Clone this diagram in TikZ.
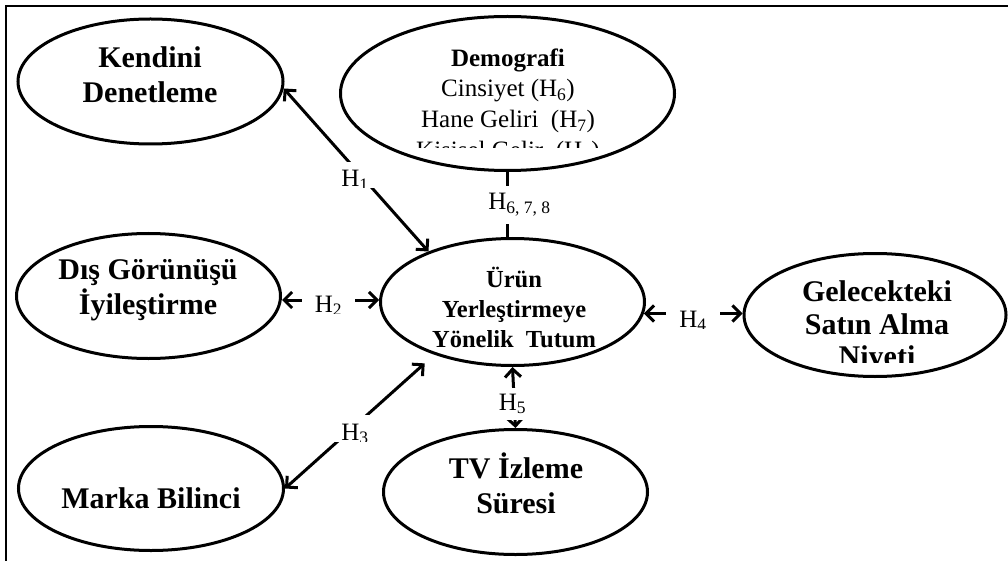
\documentclass[tikz,border=0pt]{standalone}
\usepackage{fontspec}
\setmainfont{Liberation Serif}
\usetikzlibrary{arrows.meta,shapes.geometric}

\begin{document}
\begin{tikzpicture}[x=1pt,y=-1pt,
  ell/.style={draw, ellipse, line width=3pt, inner sep=0pt},
  ttl/.style={font=\fontsize{30}{35}\selectfont\bfseries, align=center, inner sep=0pt},
  hyp/.style={font=\fontsize{25}{30}\selectfont, fill=white, inner xsep=13pt, inner ysep=9pt},
  link/.style={line width=3pt},
  bi/.style={link, {Straight Barb[length=8pt,width=16pt]}-{Straight Barb[length=8pt,width=16pt]}}]

\useasboundingbox (0,0) rectangle (1008,561);

% frame
\draw[line width=2pt] (6,561) -- (6,6) -- (1008,6);

% constructs
\node[ell, minimum width=265pt, minimum height=125pt] (kendini) at (150.5,81.5) {};
\node[ell, minimum width=334pt, minimum height=154pt] (demo) at (507.5,93.5) {};
\node[ell, minimum width=264pt, minimum height=125pt] (dis) at (148.5,296) {};
\node[ell, minimum width=264pt, minimum height=127pt] (urun) at (512.5,302) {};
\node[ell, minimum width=262pt, minimum height=123pt] (gel) at (875,315) {};
\node[ell, minimum width=265pt, minimum height=124pt] (marka) at (151,488.5) {};
\node[ell, minimum width=264pt, minimum height=125pt] (tv) at (515.5,492) {};

% construct names
\node[ttl] (kendinitxt) at (150,74.5) {Kendini\\Denetleme};
\begin{scope}
  \clip (330,10) rectangle (690,148);
  \node[font=\fontsize{25}{30.7}\selectfont, align=center, inner sep=0pt] (demotxt) at (508,106)
    {{\bfseries Demografi}\\Cinsiyet (H\textsubscript{6})\\Hane Geliri~ (H\textsubscript{7})\\Kişisel Gelir~ (H\textsubscript{8})};
\end{scope}
\node[ttl] (distxt) at (148,290.7) {Dış Görünüşü\\İyileştirme};
\node[ttl, font=\fontsize{24.5}{30}\selectfont\bfseries] (uruntxt) at (514,307) {Ürün\\Yerleştirmeye\\Yönelik~ Tutum};
\begin{scope}
  \clip (740,260) rectangle (1008,362);
  \node[ttl, font=\fontsize{30}{32.5}\selectfont\bfseries] (geltxt) at (877,327) {Gelecekteki\\Satın Alma\\Niyeti};
\end{scope}
\node[ttl, anchor=base] (markatxt) at (151,508) {Marka Bilinci};
\node[ttl] (tvtxt) at (516,483) {TV İzleme\\Süresi};

% hypotheses
\draw[bi] (kendini.-3) -- (urun.149);
\draw[bi] ([yshift=-4pt]dis.east) -- ([yshift=-4pt]dis.east -| urun.west);
\draw[bi, shorten >=13pt] (marka.east) -- (urun.214);
\draw[bi] (urun.-5) -- (urun.-5 -| gel.west);
\draw[bi] (urun.south) -- (tv.north);
\draw[link] (demo.south) -- (demo.south |- urun.north);

\begin{scope}
  \clip (300,150) rectangle (420,188);
  \node[hyp, anchor=base, inner xsep=8pt] (h1) at (355,187) {H\textsubscript{1}};
\end{scope}
\begin{scope}
  \clip (290,280) rectangle (370,313);
  \node[hyp, anchor=base] (h2) at (328.5,312) {H\textsubscript{2}};
\end{scope}
\begin{scope}
  \clip (320,400) rectangle (390,441);
  \node[hyp, anchor=base, inner xsep=8pt] (h3) at (355,440) {H\textsubscript{3}};
\end{scope}
\begin{scope}
  \clip (650,295) rectangle (740,328);
  \node[hyp, anchor=base] (h4) at (693,327) {H\textsubscript{4}};
\end{scope}
\node[hyp, anchor=base, inner xsep=3pt, inner ysep=6pt] (h5) at (512.5,410) {H\textsubscript{5}};
\node[hyp, anchor=base, inner xsep=3pt, inner ysep=8pt] (h678) at (519.5,210) {H\textsubscript{6, 7, 8}};

\end{tikzpicture}
\end{document}
